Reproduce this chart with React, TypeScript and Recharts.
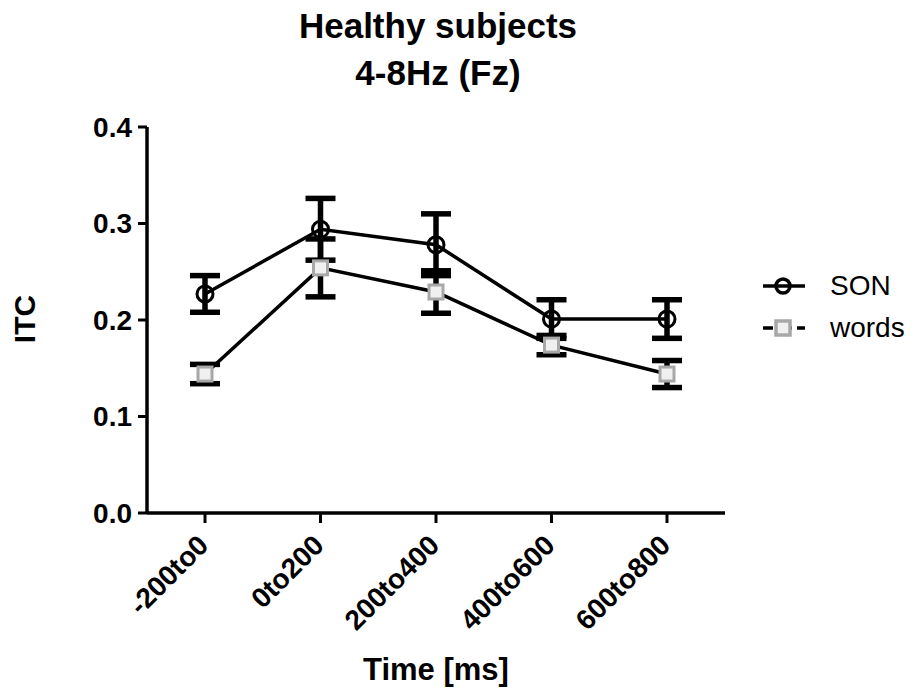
import React from 'react';
import { LineChart, Line, XAxis, YAxis, ErrorBar } from 'recharts';

const categories = ['-200to0', '0to200', '200to400', '400to600', '600to800'];
const sonValues = [0.227, 0.294, 0.278, 0.201, 0.201];
const sonErrors = [0.019, 0.032, 0.032, 0.02, 0.02];
const wordsValues = [0.144, 0.254, 0.229, 0.174, 0.144];
const wordsErrors = [0.01, 0.03, 0.022, 0.01, 0.014];
const yTicks = [0, 0.1, 0.2, 0.3, 0.4];

const data = categories.map((c, i) => ({
  cat: c,
  SON: sonValues[i],
  sonErr: sonErrors[i],
  words: wordsValues[i],
  wordsErr: wordsErrors[i],
}));

const FONT = '"Liberation Sans", Arial, Helvetica, sans-serif';

const XTick = (props: any) => {
  const { x, y, payload } = props;
  const px = x + 5;
  const py = y + 22;
  return (
    <text
      x={px}
      y={py}
      transform={`rotate(-45, ${px}, ${py})`}
      textAnchor="end"
      fontFamily={FONT}
      fontWeight="bold"
      fontSize={28}
      fill="#000"
    >
      {payload.value}
    </text>
  );
};

const YTick = (props: any) => {
  const { x, y, payload } = props;
  return (
    <text
      x={x - 4}
      y={y}
      textAnchor="end"
      dominantBaseline="central"
      fontFamily={FONT}
      fontWeight="bold"
      fontSize={28}
      fill="#000"
    >
      {payload.value.toFixed(1)}
    </text>
  );
};

const CircleDot = (props: any) => {
  const { cx, cy, index } = props;
  return <circle key={`c${index}`} cx={cx} cy={cy} r={8} fill="none" stroke="#000" strokeWidth={3} />;
};

const SquareDot = (props: any) => {
  const { cx, cy, index } = props;
  return (
    <rect key={`s${index}`} x={cx - 7} y={cy - 7} width={14} height={14} fill="#f0f0f0" stroke="#a8a8a8" strokeWidth={3} />
  );
};

const LegendBlock = () => (
  <div
    style={{
      position: 'absolute',
      left: 760,
      top: 266,
      fontFamily: FONT,
      fontSize: 28,
      color: '#000',
    }}
  >
    <div style={{ display: 'flex', alignItems: 'center', height: 40 }}>
      <svg width={48} height={24}>
        <line x1={3} y1={12} x2={45} y2={12} stroke="#000" strokeWidth={3.5} />
        <circle cx={23} cy={12} r={7} fill="none" stroke="#000" strokeWidth={3.5} />
      </svg>
      <span style={{ marginLeft: 22 }}>SON</span>
    </div>
    <div style={{ display: 'flex', alignItems: 'center', height: 44 }}>
      <svg width={48} height={24}>
        <line x1={3} y1={12} x2={45} y2={12} stroke="#000" strokeWidth={3.5} strokeDasharray="10 5 14 5 10" />
        <rect x={16} y={5} width={14} height={14} fill="#f0f0f0" stroke="#a8a8a8" strokeWidth={3.5} />
      </svg>
      <span style={{ marginLeft: 22 }}>words</span>
    </div>
  </div>
);

export default function App() {
  return (
    <div style={{ position: 'absolute', left: 0, top: 0, width: 915, height: 691, background: '#fff' }}>
      <div
        style={{
          position: 'absolute',
          left: 147,
          width: 582,
          top: 2,
          textAlign: 'center',
          fontFamily: FONT,
          fontWeight: 'bold',
          fontSize: 35,
          lineHeight: '47px',
          color: '#000',
        }}
      >
        Healthy subjects
        <br />
        4-8Hz (Fz)
      </div>
      <div
        style={{
          position: 'absolute',
          left: 147,
          width: 578,
          top: 652,
          textAlign: 'center',
          fontFamily: FONT,
          fontWeight: 'bold',
          fontSize: 31,
          lineHeight: '36px',
          color: '#000',
        }}
      >
        Time [ms]
      </div>
      <div
        style={{
          position: 'absolute',
          left: 25,
          top: 319,
          transform: 'translate(-50%, -50%) rotate(-90deg)',
          fontFamily: FONT,
          fontWeight: 'bold',
          fontSize: 30,
          lineHeight: '34px',
          color: '#000',
        }}
      >
        ITC
      </div>
      <LegendBlock />
      <div style={{ position: 'absolute', left: 0, top: 0 }}>
        <LineChart
          width={915}
          height={691}
          data={data}
          margin={{ top: 127, right: 190, bottom: 0, left: 0 }}
        >
          <XAxis
            dataKey="cat"
            height={178}
            padding={{ left: 58, right: 58 }}
            tick={<XTick />}
            tickLine={{ stroke: '#000', strokeWidth: 3 }}
            tickSize={10}
            axisLine={{ stroke: '#000', strokeWidth: 3.5 }}
            interval={0}
          />
          <YAxis
            width={147}
            domain={[0, 0.4]}
            ticks={yTicks}
            tick={<YTick />}
            tickLine={{ stroke: '#000', strokeWidth: 3 }}
            tickSize={9}
            axisLine={{ stroke: '#000', strokeWidth: 3.5 }}
            allowDataOverflow
          />
          <Line
            dataKey="words"
            stroke="#000"
            strokeWidth={3.5}
            dot={<SquareDot />}
            isAnimationActive={false}
          />
          <Line
            dataKey="SON"
            stroke="#000"
            strokeWidth={3.5}
            dot={<CircleDot />}
            isAnimationActive={false}
          />
          <Line
            dataKey="words"
            stroke="none"
            dot={false}
            activeDot={false}
            legendType="none"
            isAnimationActive={false}
          >
            <ErrorBar dataKey="wordsErr" stroke="#000" strokeWidth={5.5} width={15} direction="y" />
          </Line>
          <Line
            dataKey="SON"
            stroke="none"
            dot={false}
            activeDot={false}
            legendType="none"
            isAnimationActive={false}
          >
            <ErrorBar dataKey="sonErr" stroke="#000" strokeWidth={5.5} width={15} direction="y" />
          </Line>
        </LineChart>
      </div>
    </div>
  );
}
